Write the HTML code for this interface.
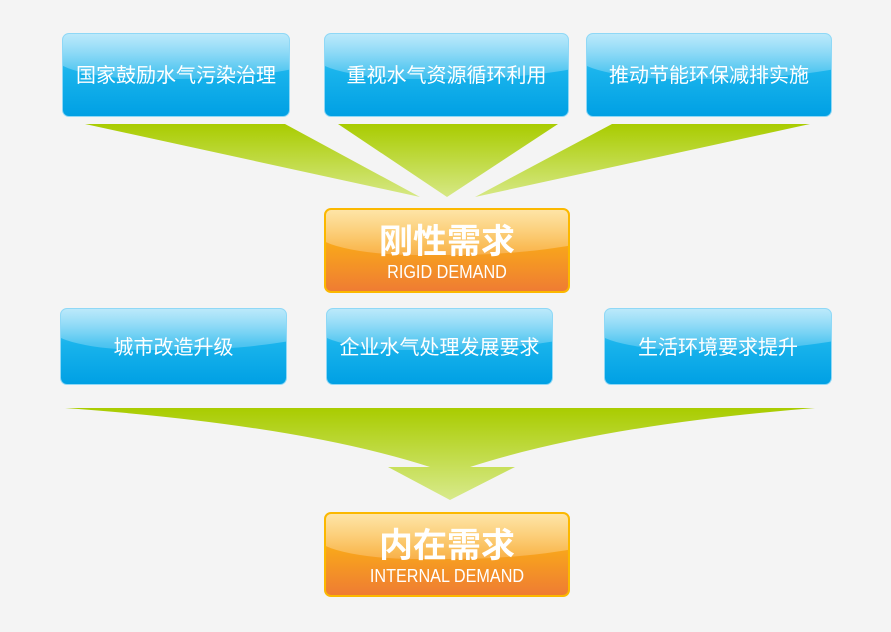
<!DOCTYPE html>
<html><head><meta charset="utf-8"><style>
body{margin:0;width:891px;height:632px;background:#f4f4f4;position:relative;overflow:hidden;font-family:"Liberation Sans","Noto Sans CJK SC",sans-serif}
.b{position:absolute;border-radius:7px;overflow:hidden;color:#fff;text-align:center;box-sizing:border-box}
.blue{background:linear-gradient(#6fd0f6,#1ab4ec 45%,#00a0e4);border:1px solid #8fd8f6}
.or{background:linear-gradient(#fcc540,#f8a51c 45%,#ef7c33);border:2px solid #fbb800}
.b:before{content:"";position:absolute;left:-5%;top:-45%;width:140%;height:100%;border-radius:0 0 60% 30%;background:linear-gradient(rgba(255,255,255,.8),rgba(255,255,255,.2));}
.b span{position:relative;display:block}
.t{font-size:20px;line-height:84px}
.t2{font-size:20px;line-height:78px}
.big{font-size:34px;font-weight:bold;margin-top:12px;line-height:40px}
.en{font-size:18px;line-height:20px;transform:scaleX(.9)}
</style></head><body>
<svg width="891" height="632" style="position:absolute;left:0;top:0">
<defs><linearGradient id="g" x1="0" y1="0" x2="0" y2="1"><stop offset="0" stop-color="#a9cc00"/><stop offset="1" stop-color="#d6e885"/></linearGradient>
<linearGradient id="g2" x1="0" y1="408" x2="0" y2="500" gradientUnits="userSpaceOnUse"><stop offset="0" stop-color="#a9cc00"/><stop offset="1" stop-color="#d8ea8c"/></linearGradient></defs>
<polygon points="85,124 285,124 420,197" fill="url(#g)"/>
<polygon points="338,124 558,124 447,197" fill="url(#g)"/>
<polygon points="612,124 810,124 475,197" fill="url(#g)"/>
<path d="M65,408 L815,408 Q600,425 470,467 L515,467 L450,500 L388,467 L430,467 Q300,425 65,408Z" fill="url(#g2)"/>
</svg>
<div class="b blue t" style="left:62px;top:33px;width:228px;height:84px"><span>国家鼓励水气污染治理</span></div>
<div class="b blue t" style="left:324px;top:33px;width:245px;height:84px"><span>重视水气资源循环利用</span></div>
<div class="b blue t" style="left:586px;top:33px;width:246px;height:84px"><span>推动节能环保减排实施</span></div>
<div class="b or" style="left:324px;top:208px;width:246px;height:85px"><span class="big">刚性需求</span><span class="en">RIGID DEMAND</span></div>
<div class="b blue t2" style="left:60px;top:308px;width:227px;height:77px"><span>城市改造升级</span></div>
<div class="b blue t2" style="left:326px;top:308px;width:227px;height:77px"><span>企业水气处理发展要求</span></div>
<div class="b blue t2" style="left:604px;top:308px;width:228px;height:77px"><span>生活环境要求提升</span></div>
<div class="b or" style="left:324px;top:512px;width:246px;height:85px"><span class="big">内在需求</span><span class="en">INTERNAL DEMAND</span></div>
</body></html>
